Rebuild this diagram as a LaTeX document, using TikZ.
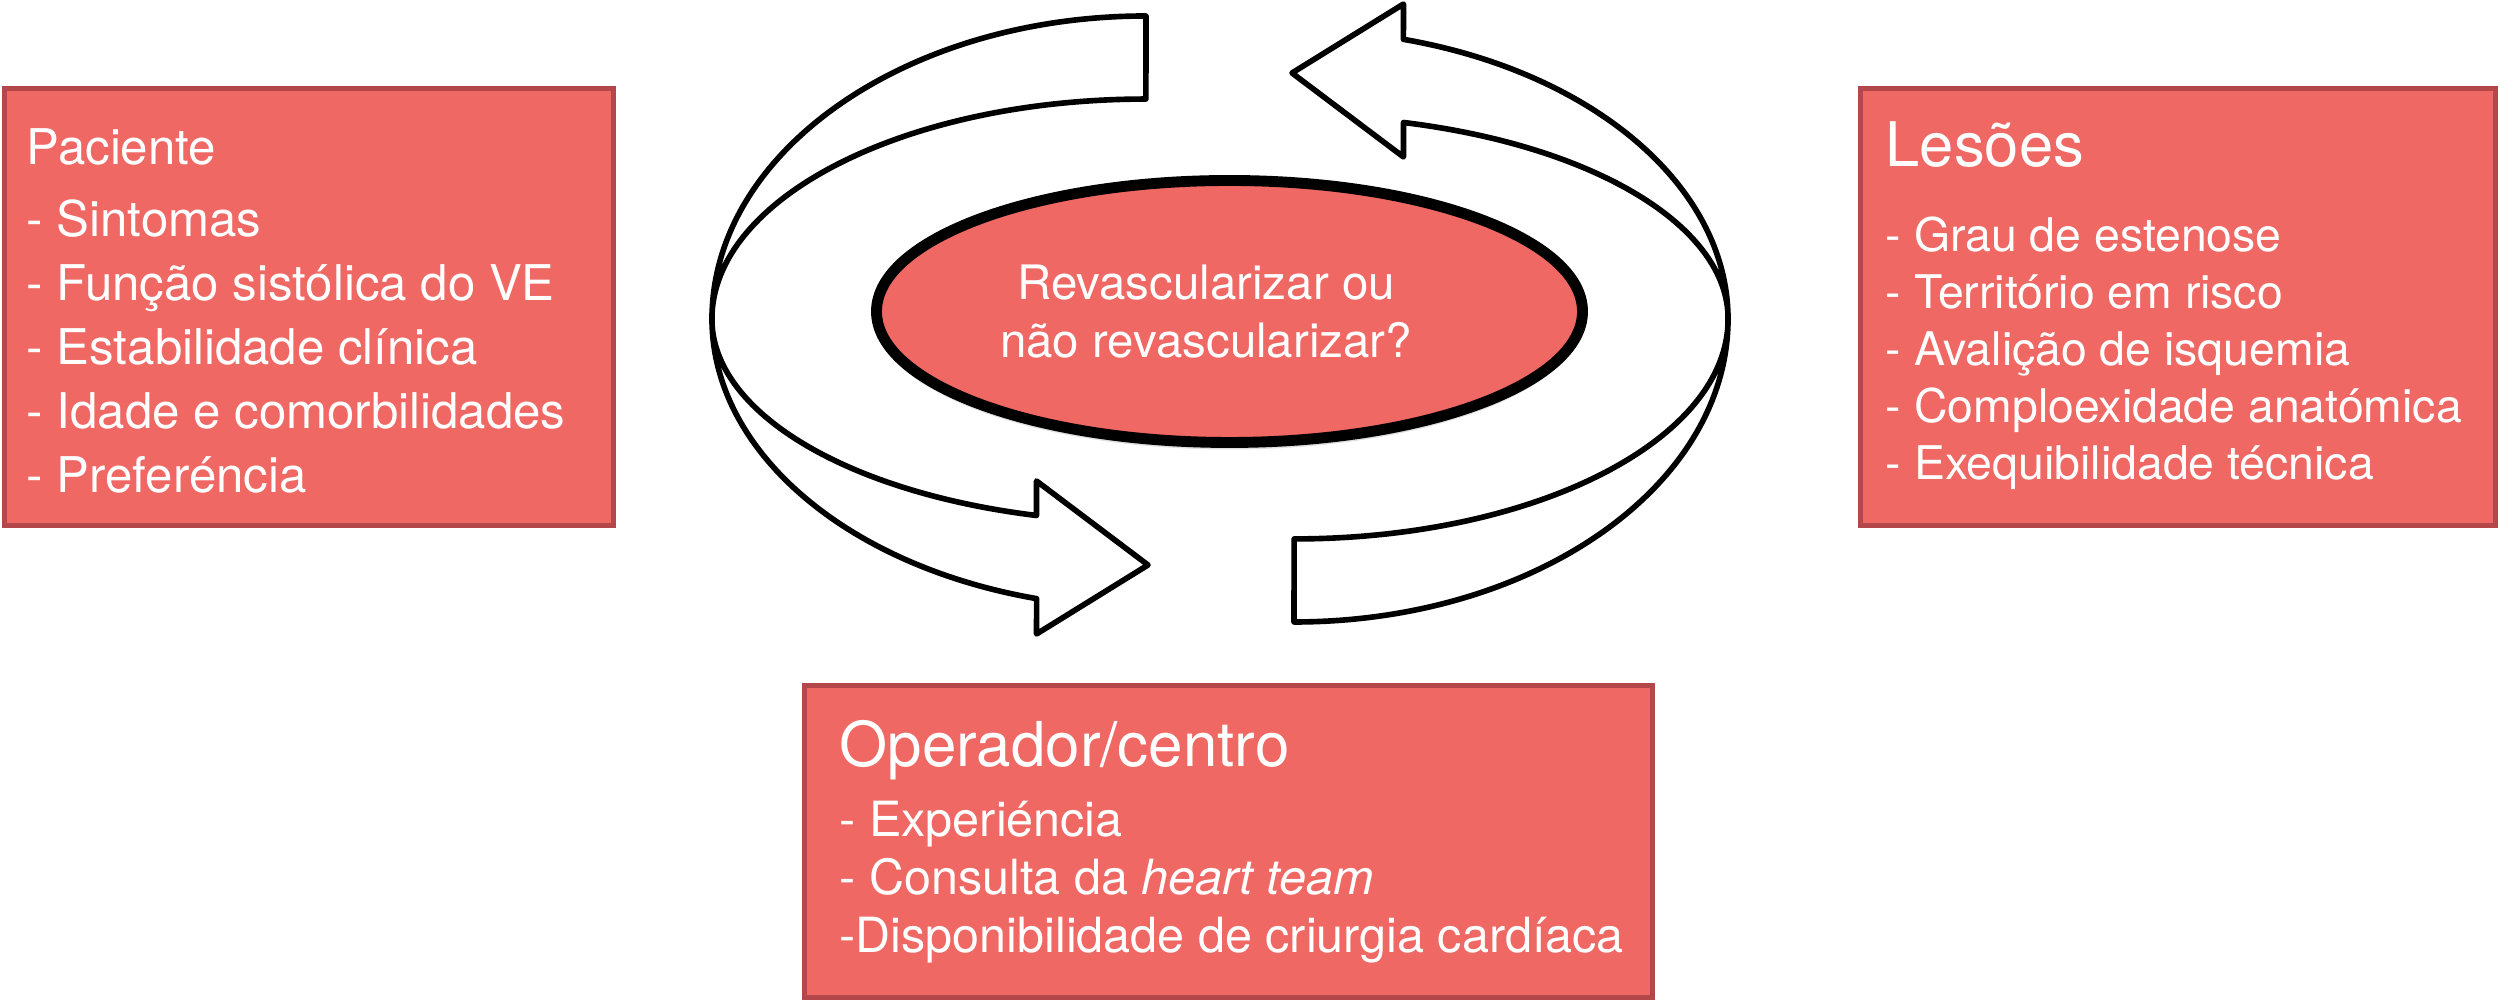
\documentclass[tikz,border=0pt]{standalone}
\usepackage{fontspec}
\setmainfont{TeX Gyre Heros}
\usetikzlibrary{shapes.geometric, shadows}
\definecolor{boxred}{HTML}{EF6864}
\definecolor{boxedge}{HTML}{B4474A}
\tikzset{
  factor/.style={rectangle, draw=boxedge, line width=1.4pt, fill=boxred, inner sep=0pt},
  itemtext/.style={text=white, anchor=base west, inner sep=0pt},
  core/.style={ellipse, draw=black, line width=3.1pt, fill=boxred, inner sep=0pt, minimum width=7.06cm, minimum height=2.62cm, drop shadow={shadow xshift=0cm, shadow yshift=-0.07cm, opacity=0.25}},
  turn/.style={draw=black, line width=1.6pt, fill=white, line join=round}
}
\newcommand{\turnarrow}[1]{
    \draw[turn, #1] (-0.74,3.03)
        arc[start angle=90, end angle=180, x radius=4.34, y radius=3.03]
        arc[start angle=180, end angle=255.4, x radius=4.34, y radius=2.89]
        -- (-1.835,-3.15) -- (-0.72,-2.46) -- (-1.835,-1.62) -- (-1.835,-1.965)
        arc[start angle=255.4, end angle=180, x radius=4.34, y radius=2.03]
        arc[start angle=180, end angle=90, x radius=4.34, y radius=2.20]
        -- cycle;
}

\begin{document}
\begin{tikzpicture}
    \useasboundingbox (0,0) rectangle (25,10.05);

    % setas em volta da pergunta
    \turnarrow{shift={(12.20,6.86)}}
    \turnarrow{shift={(12.20,6.86)}, rotate=180}

    % pergunta central
    \node[core] (core) at (12.295,6.935) {};
    \node[text=white, align=center, inner sep=0pt, font=\fontsize{13.5}{16.5}\selectfont] (question) at (12.06,6.935) {Revascularizar ou\\não revascularizar?};

    % Paciente
    \node[factor, minimum width=6.09cm, minimum height=4.37cm] (patient) at (3.09,6.98) {};
    \node[itemtext, font=\fontsize{14}{17}\selectfont] (pac0) at (0.26,8.40) {Paciente};
    \foreach \i/\txt in {1/Sintomas, 2/Função sistólica do VE, 3/Estabilidade clínica, 4/Idade e comorbilidades, 5/Preferéncia} {
        \node[itemtext, font=\fontsize{14}{17}\selectfont] (pac\i) at (0.26,{8.32-\i*0.64}) {- \txt};
    }

    % Lesoes
    \node[factor, minimum width=6.35cm, minimum height=4.37cm] (lesion) at (21.78,6.98) {};
    \node[itemtext, font=\fontsize{17.5}{21}\selectfont] (les0) at (18.85,8.38) {Lesões};
    \foreach \i/\txt in {1/Grau de estenose, 2/Território em risco, 3/Avalição de isquemia, 4/Comploexidade anatómica, 5/Exequibilidade técnica} {
        \node[itemtext, font=\fontsize{13.2}{16}\selectfont] (les\i) at (18.85,{8.10-\i*0.57}) {- \txt};
    }

    % Operador/centro
    \node[factor, minimum width=8.48cm, minimum height=3.12cm] (operator) at (12.285,1.635) {};
    \node[itemtext, font=\fontsize{17.6}{21}\selectfont] (op0) at (8.39,2.38) {Operador/centro};
    \foreach \i/\txt in {1/- Experiéncia, 2/- Consulta da \textit{heart team}, 3/-Disponibilidade de criurgia cardíaca} {
        \node[itemtext, font=\fontsize{13.8}{16.5}\selectfont] (op\i) at (8.39,{2.26-\i*0.58}) {\txt};
    }
\end{tikzpicture}
\end{document}
